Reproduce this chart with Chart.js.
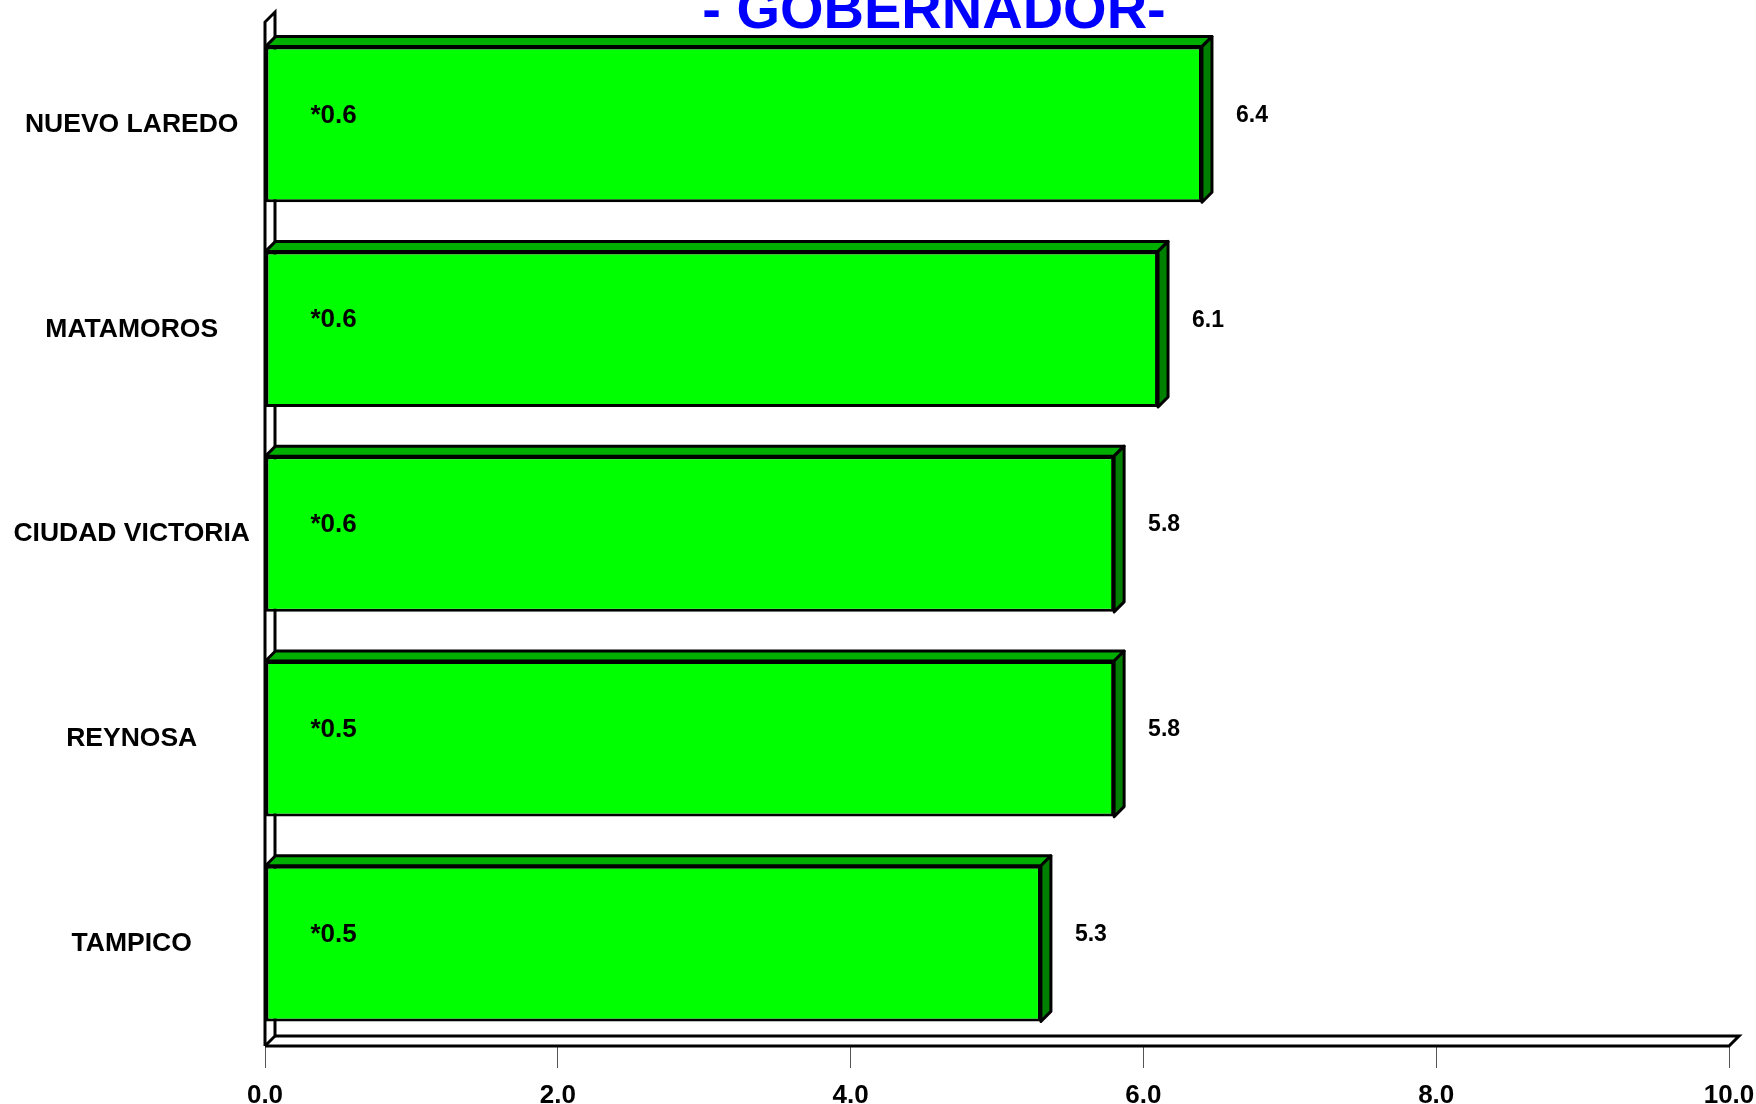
<!DOCTYPE html>
<html>
<head>
<meta charset="utf-8">
<script src="https://cdn.jsdelivr.net/npm/chart.js@4"></script>
<style>
  html, body { margin: 0; padding: 0; background: #fff; }
  #wrap { width: 1756px; height: 1104px; }
</style>
</head>
<body>
<div id="wrap"><canvas id="chart"></canvas></div>
<script>
const categories = ['NUEVO LAREDO', 'MATAMOROS', 'CIUDAD VICTORIA', 'REYNOSA', 'TAMPICO'];
const values = [6.4, 6.1, 5.8, 5.8, 5.3];
const innerLabels = ['*0.6', '*0.6', '*0.6', '*0.5', '*0.5'];
const titleText = '- GOBERNADOR-';

const FONT = '"Liberation Sans", Arial, sans-serif';
const DX = 10, DY = 10;

// wall, floor and bar depth faces
const depthPlugin = {
    id: 'depth',
    beforeDatasetsDraw(chart) {
        const ctx = chart.ctx;
        const a = chart.chartArea;
        ctx.save();
        ctx.strokeStyle = '#000';
        ctx.lineWidth = 3;
        ctx.lineJoin = 'miter';
        // left wall
        ctx.beginPath();
        ctx.moveTo(a.left, a.bottom);
        ctx.lineTo(a.left, a.top);
        ctx.lineTo(a.left + DX, a.top - DY);
        ctx.lineTo(a.left + DX, a.bottom - DY);
        ctx.lineTo(a.left, a.bottom);
        ctx.stroke();
        // floor
        ctx.beginPath();
        ctx.moveTo(a.left, a.bottom);
        ctx.lineTo(a.right, a.bottom);
        ctx.lineTo(a.right + DX, a.bottom - DY);
        ctx.lineTo(a.left + DX, a.bottom - DY);
        ctx.stroke();
        ctx.restore();
    },
    afterDatasetsDraw(chart) {
        const ctx = chart.ctx;
        const meta = chart.getDatasetMeta(0);
        ctx.save();
        ctx.strokeStyle = '#000';
        ctx.lineWidth = 3;
        ctx.lineJoin = 'round';
        meta.data.forEach((bar, i) => {
            const left = bar.base, right = bar.x;
            const top = bar.y - bar.height / 2, bottom = bar.y + bar.height / 2;
            // top face
            ctx.fillStyle = '#00b000';
            ctx.beginPath();
            ctx.moveTo(left, top);
            ctx.lineTo(left + DX, top - DY);
            ctx.lineTo(right + DX, top - DY);
            ctx.lineTo(right, top);
            ctx.closePath();
            ctx.fill();
            ctx.stroke();
            // side face
            ctx.fillStyle = '#008000';
            ctx.beginPath();
            ctx.moveTo(right, top);
            ctx.lineTo(right + DX, top - DY);
            ctx.lineTo(right + DX, bottom - DY);
            ctx.lineTo(right, bottom);
            ctx.closePath();
            ctx.fill();
            ctx.stroke();

            // labels
            ctx.fillStyle = '#000';
            ctx.textBaseline = 'middle';
            ctx.textAlign = 'left';
            ctx.font = 'bold 26px ' + FONT;
            ctx.fillText(innerLabels[i], left + 45, bar.y - 9);
            ctx.font = 'bold 23px ' + FONT;
            ctx.fillText(values[i].toFixed(1), right + DX + 24, bar.y - 9);
        });
        ctx.restore();
    },
    afterDraw(chart) {
        const ctx = chart.ctx;
        ctx.save();
        ctx.fillStyle = '#0000ff';
        ctx.font = 'bold 56px ' + FONT;
        ctx.textAlign = 'center';
        ctx.textBaseline = 'alphabetic';
        ctx.fillText(titleText, 934, 28);
        ctx.restore();
    }
};

new Chart(document.getElementById('chart'), {
    type: 'bar',
    data: {
        labels: categories,
        datasets: [{
            data: values,
            backgroundColor: '#00ff00',
            borderColor: '#000',
            borderWidth: 3,
            borderSkipped: false,
            barPercentage: 0.76,
            categoryPercentage: 1.0
        }]
    },
    options: {
        indexAxis: 'y',
        responsive: true,
        maintainAspectRatio: false,
        animation: false,
        layout: { padding: { top: 22, right: 27, left: 0, bottom: 0 } },
        plugins: {
            legend: { display: false },
            tooltip: { enabled: false }
        },
        scales: {
            x: {
                min: 0,
                max: 10,
                ticks: {
                    stepSize: 2,
                    color: '#000',
                    padding: 12,
                    font: { family: FONT, size: 26, weight: 'bold' },
                    callback: v => Number(v).toFixed(1)
                },
                grid: {
                    drawOnChartArea: false,
                    drawTicks: true,
                    tickLength: 22,
                    color: '#555',
                    lineWidth: 1
                },
                border: { display: false },
                afterFit(scale) {
                    scale.height = 58;
                    scale.paddingLeft = 0;
                    scale.paddingRight = 0;
                }
            },
            y: {
                ticks: {
                    color: '#000',
                    crossAlign: 'center',
                    padding: 15,
                    font: { family: FONT, size: 26.5, weight: 'bold' }
                },
                grid: { display: false, drawTicks: false },
                border: { display: false },
                afterFit(scale) {
                    scale.width = 265;
                    scale.paddingTop = 0;
                    scale.paddingBottom = 0;
                }
            }
        }
    },
    plugins: [depthPlugin]
});
</script>
</body>
</html>
